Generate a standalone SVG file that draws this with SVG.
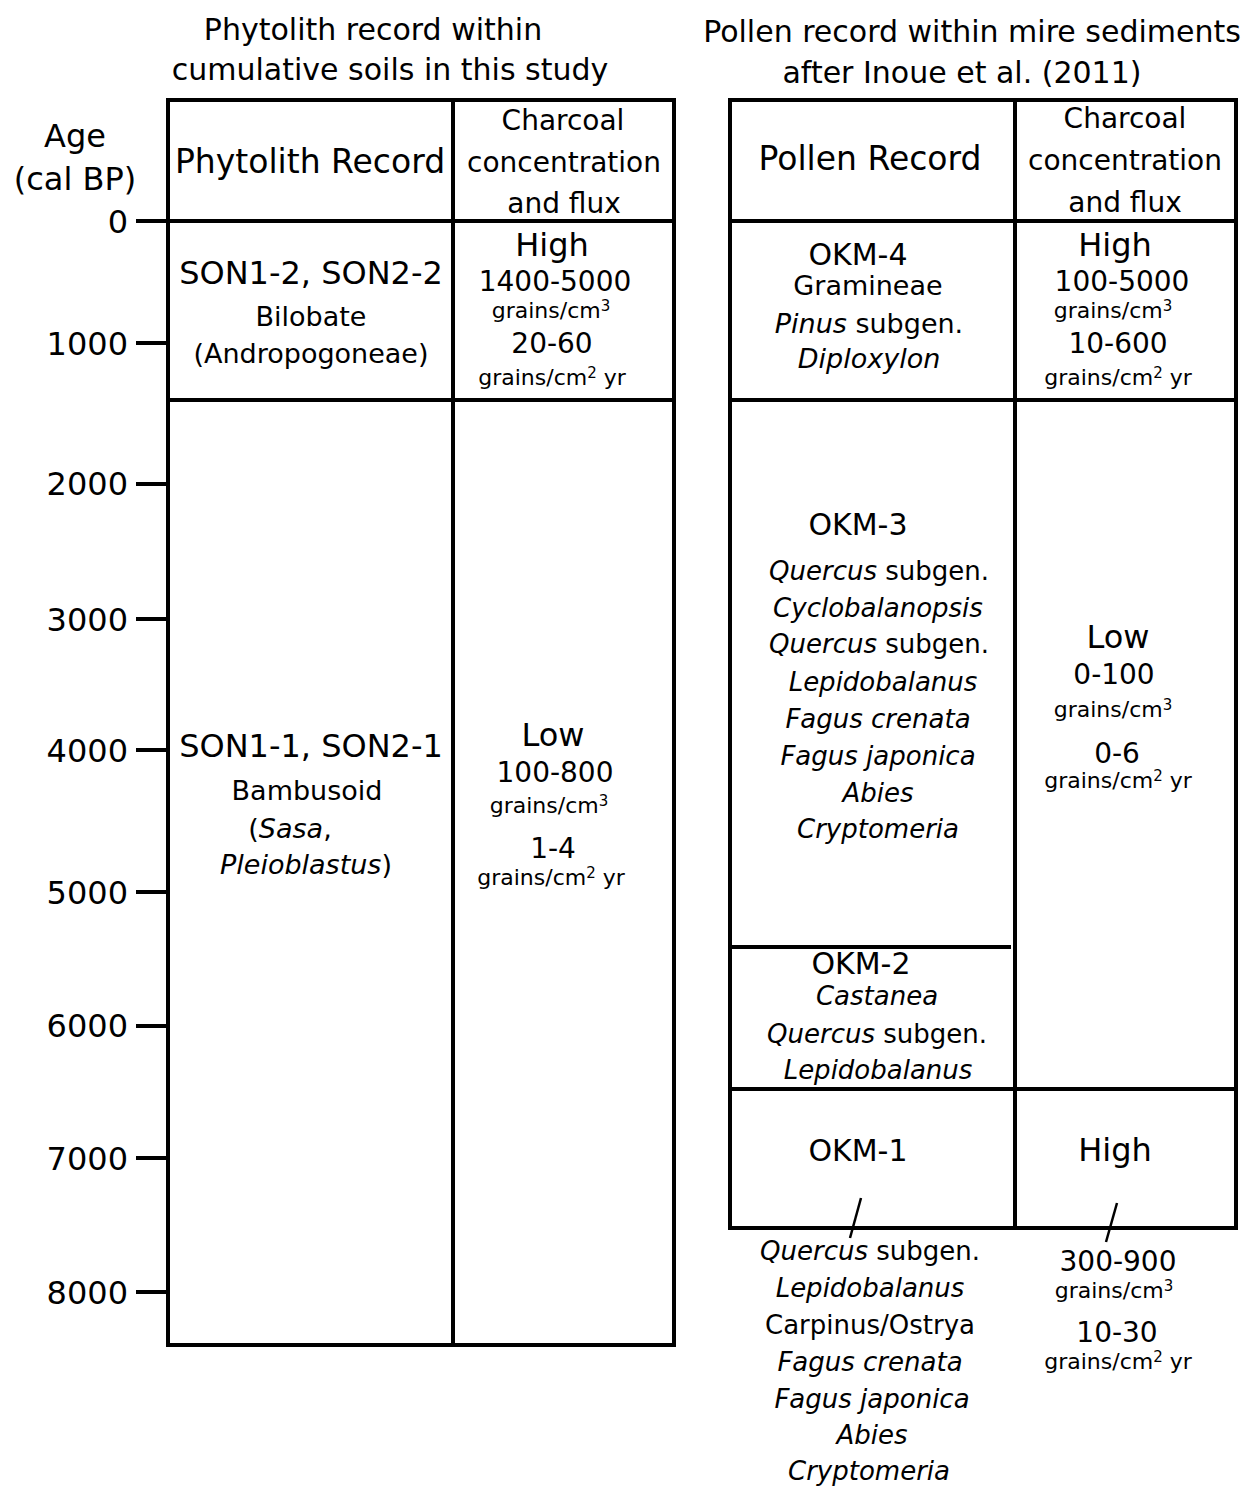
<svg xmlns="http://www.w3.org/2000/svg" width="1252" height="1487" viewBox="0 0 1252 1487">
<style>
text{font-family:"DejaVu Sans","Liberation Sans",sans-serif;fill:#000;text-anchor:middle}
.t{font-size:30px}
.ax{font-size:32px;text-anchor:end}
.h{font-size:33px}
.hc{font-size:28px}
.lv{font-size:32px}
.num{font-size:28px}
.u{font-size:22px}
.sup{font-size:15px}
.son{font-size:32px}
.sp{font-size:27px}
.okm{font-size:30px}
.sp2{font-size:26px}
.it{font-style:italic}
.ln{stroke:#000;stroke-width:4;fill:none}
.sl{stroke:#000;stroke-width:2.5;fill:none}
</style>

<g id="titles">
<text class="t" x="373" y="40">Phytolith  record within</text>
<text class="t" x="390" y="80">cumulative soils in this study</text>
<text class="t" x="972" y="42">Pollen record within mire sediments</text>
<text class="t" x="962" y="83">after Inoue et al. (2011)</text>
</g>

<g id="axis">
<text class="ax" x="75" y="147" style="text-anchor:middle">Age</text>
<text class="ax" x="75" y="190" style="text-anchor:middle">(cal BP)</text>
<text class="ax" x="128" y="233">0</text>
<text class="ax" x="128" y="355">1000</text>
<text class="ax" x="128" y="495">2000</text>
<text class="ax" x="128" y="631">3000</text>
<text class="ax" x="128" y="762">4000</text>
<text class="ax" x="128" y="904">5000</text>
<text class="ax" x="128" y="1037">6000</text>
<text class="ax" x="128" y="1170">7000</text>
<text class="ax" x="128" y="1304">8000</text>
<g class="ln">
<line x1="136" y1="221" x2="168" y2="221"/>
<line x1="136" y1="343" x2="168" y2="343"/>
<line x1="136" y1="484" x2="168" y2="484"/>
<line x1="136" y1="619" x2="168" y2="619"/>
<line x1="136" y1="750" x2="168" y2="750"/>
<line x1="136" y1="892" x2="168" y2="892"/>
<line x1="136" y1="1026" x2="168" y2="1026"/>
<line x1="136" y1="1158" x2="168" y2="1158"/>
<line x1="136" y1="1292" x2="168" y2="1292"/>
</g>
</g>

<g id="connectors">
<g id="left-table-lines" class="ln">
<rect x="168" y="100" width="506" height="1245"/>
<line x1="453" y1="100" x2="453" y2="1345"/>
<line x1="168" y1="221" x2="674" y2="221"/>
<line x1="168" y1="400" x2="674" y2="400"/>
</g>
<g id="right-table-lines" class="ln">
<rect x="730" y="100" width="506" height="1128"/>
<line x1="1015" y1="100" x2="1015" y2="1228"/>
<line x1="730" y1="221" x2="1236" y2="221"/>
<line x1="730" y1="400" x2="1236" y2="400"/>
<line x1="730" y1="947" x2="1011" y2="947"/>
<line x1="730" y1="1089" x2="1236" y2="1089"/>
</g>
<g id="slashes" class="sl">
<line x1="861" y1="1198" x2="850" y2="1238"/>
<line x1="1117" y1="1203" x2="1106" y2="1242"/>
</g>
</g>

<g id="header-left">
<text class="h" x="310" y="173">Phytolith Record</text>
<text class="hc" x="563" y="130">Charcoal</text>
<text class="hc" x="564" y="172">concentration</text>
<text class="hc" x="564" y="213">and flux</text>
</g>

<g id="header-right">
<text class="h" x="870" y="170">Pollen Record</text>
<text class="hc" x="1125" y="128">Charcoal</text>
<text class="hc" x="1125" y="170">concentration</text>
<text class="hc" x="1125" y="212">and flux</text>
</g>

<g id="son-2">
<text class="son" x="311" y="284">SON1-2, SON2-2</text>
<text class="sp" x="311" y="326">Bilobate</text>
<text class="sp" x="311" y="363">(Andropogoneae)</text>
</g>

<g id="charcoal-left-high">
<text class="lv" x="552" y="256">High</text>
<text class="num" x="555" y="291">1400-5000</text>
<text class="u" x="551" y="318">grains/cm<tspan class="sup" dy="-7">3</tspan></text>
<text class="num" x="552" y="353">20-60</text>
<text class="u" x="552" y="385">grains/cm<tspan class="sup" dy="-7">2</tspan><tspan dy="7"> yr</tspan></text>
</g>

<g id="son-1">
<text class="son" x="311" y="757">SON1-1, SON2-1</text>
<text class="sp" x="307" y="800">Bambusoid</text>
<text class="sp" x="290" y="838">(<tspan class="it">Sasa</tspan>,</text>
<text class="sp" x="306" y="874"><tspan class="it">Pleioblastus</tspan>)</text>
</g>

<g id="charcoal-left-low">
<text class="lv" x="553" y="746">Low</text>
<text class="num" x="555" y="782">100-800</text>
<text class="u" x="549" y="813">grains/cm<tspan class="sup" dy="-7">3</tspan></text>
<text class="num" x="553" y="858">1-4</text>
<text class="u" x="551" y="885">grains/cm<tspan class="sup" dy="-7">2</tspan><tspan dy="7"> yr</tspan></text>
</g>

<g id="okm-4">
<text class="okm" x="858" y="265">OKM-4</text>
<text class="sp" x="868" y="295">Gramineae</text>
<text class="sp" x="869" y="333"><tspan class="it">Pinus</tspan> subgen.</text>
<text class="sp it" x="869" y="368">Diploxylon</text>
</g>

<g id="charcoal-right-high">
<text class="lv" x="1115" y="256">High</text>
<text class="num" x="1122" y="291">100-5000</text>
<text class="u" x="1113" y="318">grains/cm<tspan class="sup" dy="-7">3</tspan></text>
<text class="num" x="1118" y="353">10-600</text>
<text class="u" x="1118" y="385">grains/cm<tspan class="sup" dy="-7">2</tspan><tspan dy="7"> yr</tspan></text>
</g>

<g id="okm-3">
<text class="okm" x="858" y="535">OKM-3</text>
<text class="sp2" x="879" y="580"><tspan class="it">Quercus</tspan> subgen.</text>
<text class="sp2 it" x="878" y="617">Cyclobalanopsis</text>
<text class="sp2" x="879" y="653"><tspan class="it">Quercus</tspan> subgen.</text>
<text class="sp2 it" x="883" y="691">Lepidobalanus</text>
<text class="sp2 it" x="878" y="728">Fagus crenata</text>
<text class="sp2 it" x="878" y="765">Fagus japonica</text>
<text class="sp2 it" x="878" y="802">Abies</text>
<text class="sp2 it" x="878" y="838">Cryptomeria</text>
</g>

<g id="charcoal-right-low">
<text class="lv" x="1118" y="648">Low</text>
<text class="num" x="1114" y="684">0-100</text>
<text class="u" x="1113" y="717">grains/cm<tspan class="sup" dy="-7">3</tspan></text>
<text class="num" x="1117" y="763">0-6</text>
<text class="u" x="1118" y="788">grains/cm<tspan class="sup" dy="-7">2</tspan><tspan dy="7"> yr</tspan></text>
</g>

<g id="okm-2">
<text class="okm" x="861" y="974">OKM-2</text>
<text class="sp2 it" x="877" y="1005">Castanea</text>
<text class="sp2" x="877" y="1043"><tspan class="it">Quercus</tspan> subgen.</text>
<text class="sp2 it" x="878" y="1079">Lepidobalanus</text>
</g>

<g id="okm-1">
<text class="okm" x="858" y="1161">OKM-1</text>
<text class="sp2" x="870" y="1260"><tspan class="it">Quercus</tspan> subgen.</text>
<text class="sp2 it" x="870" y="1297">Lepidobalanus</text>
<text class="sp2" x="870" y="1334">Carpinus/Ostrya</text>
<text class="sp2 it" x="870" y="1371">Fagus crenata</text>
<text class="sp2 it" x="872" y="1408">Fagus japonica</text>
<text class="sp2 it" x="872" y="1444">Abies</text>
<text class="sp2 it" x="869" y="1480">Cryptomeria</text>
</g>

<g id="charcoal-right-okm1">
<text class="lv" x="1115" y="1161">High</text>
<text class="num" x="1118" y="1271">300-900</text>
<text class="u" x="1114" y="1298">grains/cm<tspan class="sup" dy="-7">3</tspan></text>
<text class="num" x="1117" y="1342">10-30</text>
<text class="u" x="1118" y="1369">grains/cm<tspan class="sup" dy="-7">2</tspan><tspan dy="7"> yr</tspan></text>
</g>
</svg>
